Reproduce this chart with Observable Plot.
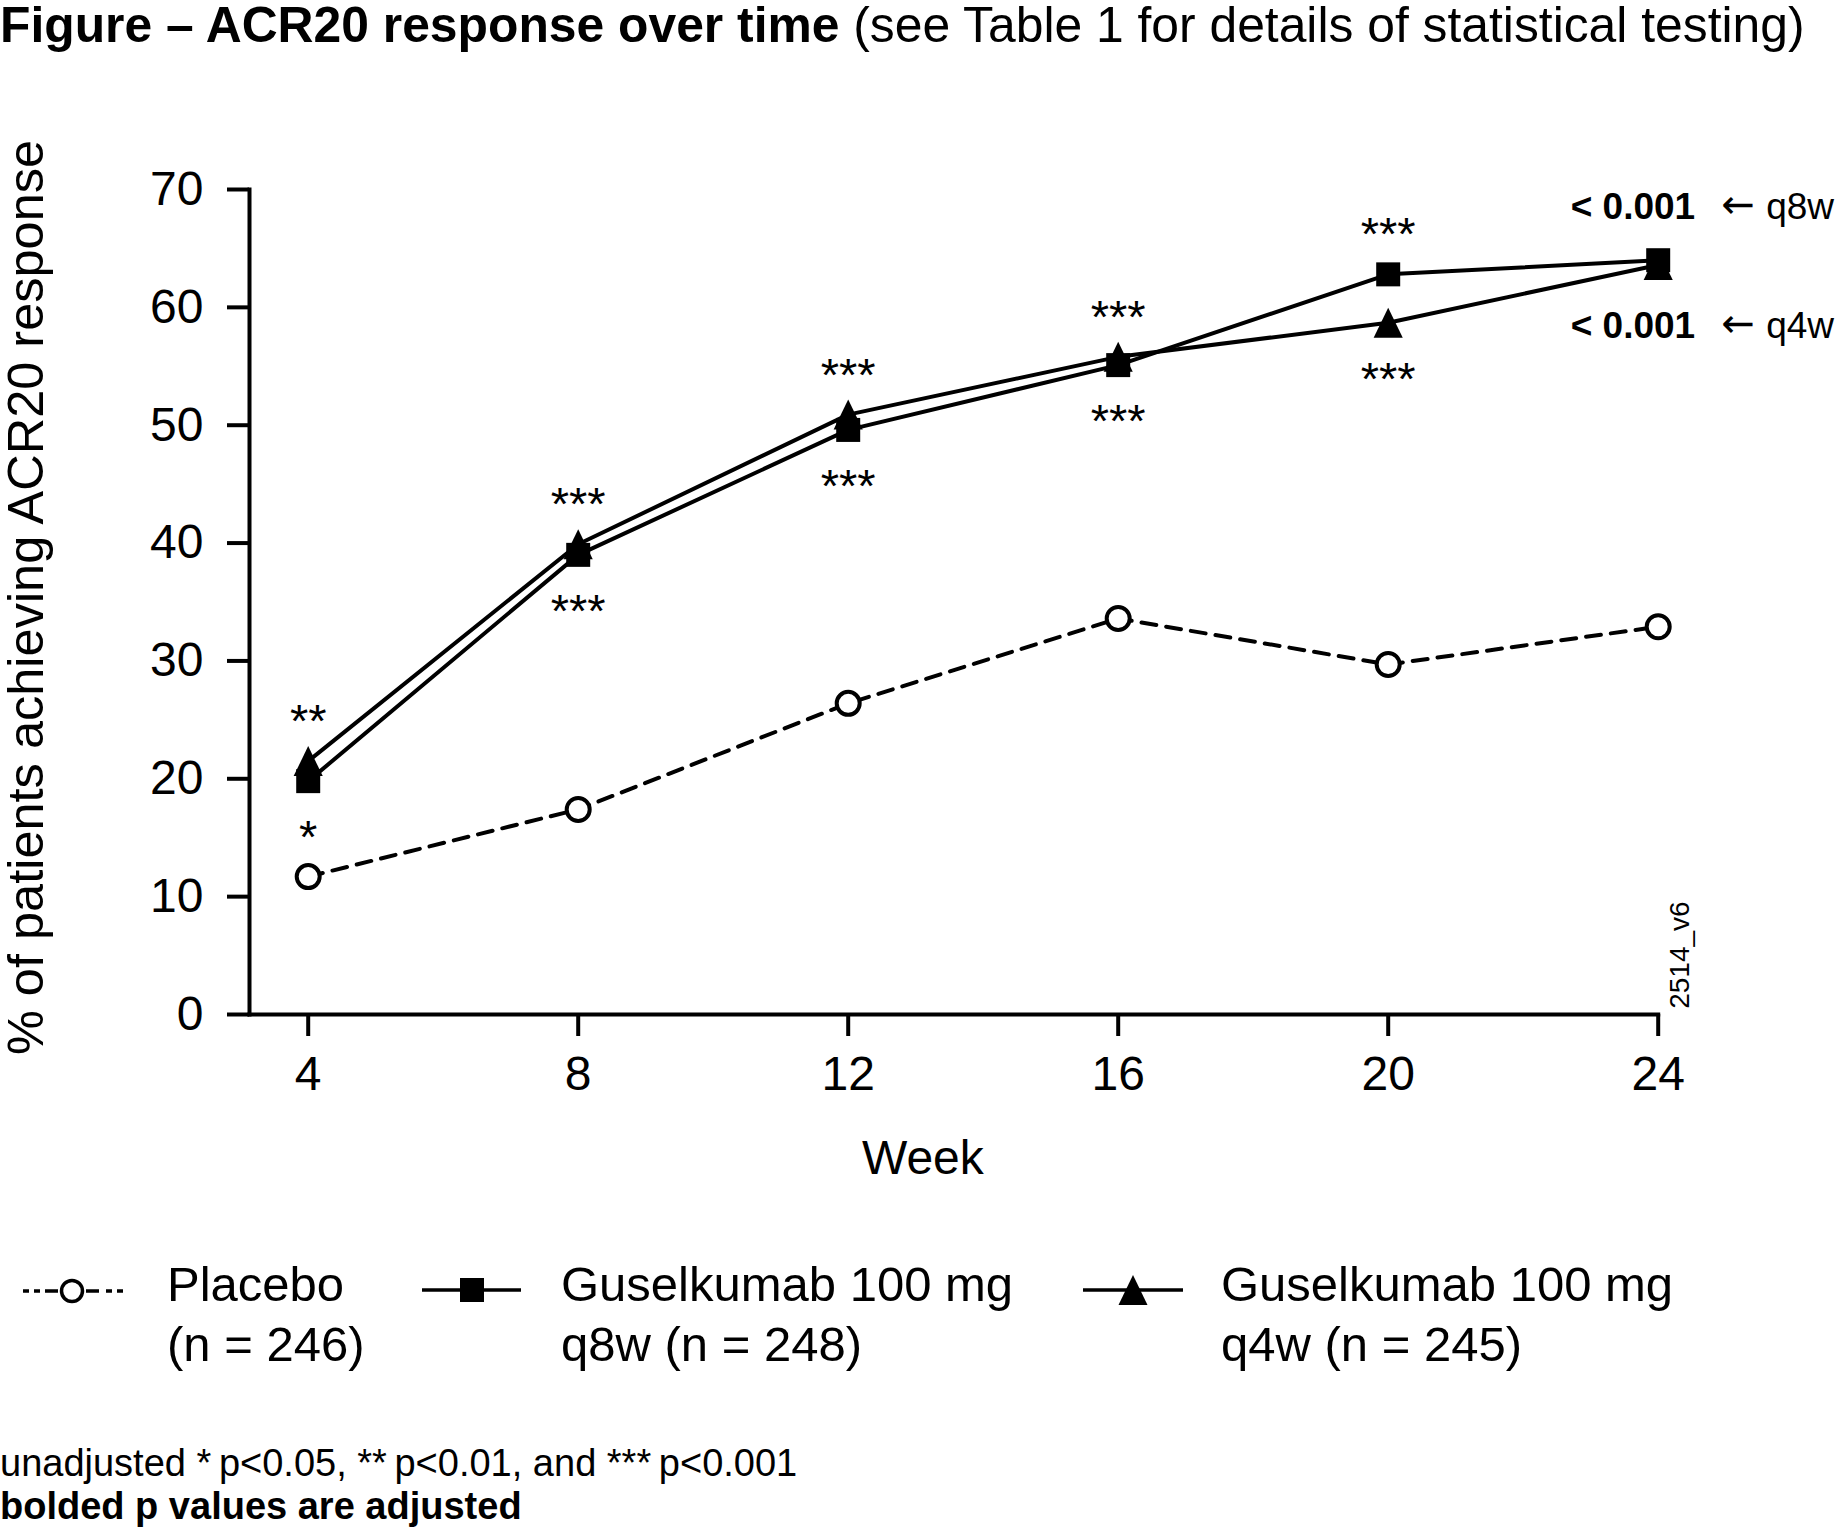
<!DOCTYPE html>
<html><head><meta charset="utf-8">
<script src="https://cdn.jsdelivr.net/npm/d3@7"></script>
<script src="https://cdn.jsdelivr.net/npm/@observablehq/plot@0.6"></script>
<style>
html,body{margin:0;padding:0;background:#fff;}
body{width:1836px;height:1540px;position:relative;overflow:hidden;font-family:"Liberation Sans",Arial,Helvetica,sans-serif;color:#000;}
#title{position:absolute;left:0;top:0;font-size:49.8px;line-height:50px;white-space:nowrap;}
#chart{position:absolute;left:0;top:60px;}
.leg{position:absolute;font-size:49px;line-height:60px;white-space:nowrap;}
#legsym{position:absolute;left:0;top:1240px;}
#foot{position:absolute;left:0;top:1442px;font-size:38px;line-height:43px;white-space:nowrap;}
</style></head><body>
<div id="title"><b>Figure – ACR20 response over time</b> (see Table 1 for details of statistical testing)</div>
<div id="chart"></div>
<svg id="legsym" width="1300" height="100">
  <g stroke="#000" fill="none">
    <path d="M23,51h6 M34,51h6 M45,51h13 M86,51h13 M106,51h6 M117,51h6" stroke-width="3.5"/>
    <circle cx="72" cy="51" r="10.5" fill="#fff" stroke-width="3.5"/>
    <path d="M422,50H521" stroke-width="3.5"/>
    <rect x="460" y="38" width="24" height="24" fill="#000" stroke="none"/>
    <path d="M1083,50H1183" stroke-width="3.5"/>
    <path d="M1133,35L1147.5,65L1118.5,65Z" fill="#000" stroke="none"/>
  </g>
</svg>
<div class="leg" id="leg1" style="left:167px;top:1254px"></div>
<div class="leg" id="leg2" style="left:561px;top:1254px"></div>
<div class="leg" id="leg3" style="left:1221px;top:1254px"></div>
<div id="foot">unadjusted *&#8201;p&lt;0.05, **&#8201;p&lt;0.01, and ***&#8201;p&lt;0.001<br><b>bolded p values are adjusted</b></div>
<script>
// ---- data ----
const weeks = [4, 8, 12, 16, 20, 24];
const placebo = [11.7, 17.4, 26.4, 33.6, 29.7, 32.9];
const q8w = [19.8, 39.0, 49.6, 55.1, 62.8, 64.0];
const q4w = [21.5, 39.9, 50.9, 55.8, 58.7, 63.6];
const legendLine1 = ["Placebo", "Guselkumab 100 mg", "Guselkumab 100 mg"];
const legendLine2 = ["(n = 246)", "q8w (n = 248)", "q4w (n = 245)"];
const yTicks = [0, 10, 20, 30, 40, 50, 60, 70];
const xTicks = [4, 8, 12, 16, 20, 24];
const yLabel = "% of patients achieving ACR20 response";
const xLabel = "Week";
const starWeeks = [4, 8, 12, 16, 20];
const starsAbove = ["**", "***", "***", "***", "***"];
const starsBelow = ["*", "***", "***", "***", "***"];
const adjLabels = ["< 0.001", "< 0.001"];
const adjArms = ["q8w", "q4w"];
const figId = "2514_v6";

// legend text
["leg1","leg2","leg3"].forEach((id,i)=>{
  const el = document.getElementById(id);
  el.appendChild(document.createTextNode(legendLine1[i]));
  el.appendChild(document.createElement("br"));
  el.appendChild(document.createTextNode(legendLine2[i]));
});

const rows = (vals, s) => weeks.map((w, i) => ({week: w, value: vals[i], series: s}));
const pl = rows(placebo, "Placebo");
const r8 = rows(q8w, "q8w");
const r4 = rows(q4w, "q4w");
const above = starWeeks.map((w, i) => { const j = weeks.indexOf(w); return {week: w, value: Math.max(q8w[j], q4w[j]), label: starsAbove[i]}; });
const below = starWeeks.map((w, i) => { const j = weeks.indexOf(w); return {week: w, value: Math.min(q8w[j], q4w[j]), label: starsBelow[i]}; });
const last = weeks.length - 1;
const adjTop = [{week: weeks[last], value: q8w[last], label: adjLabels[0], arm: adjArms[0]}];
const adjBot = [{week: weeks[last], value: q4w[last], label: adjLabels[1], arm: adjArms[1]}];

const squareSym = {draw(ctx, size) { const r = Math.sqrt(size / Math.PI); ctx.rect(-r, -r, 2 * r, 2 * r); }};
const triSym = {draw(ctx, size) { const r = Math.sqrt(size / Math.PI); ctx.moveTo(0, -r); ctx.lineTo(r * 0.97, r); ctx.lineTo(-r * 0.97, r); ctx.closePath(); }};

const font = '"Liberation Sans", Arial, Helvetica, sans-serif';
const chart = Plot.plot({
  width: 1836, height: 1140,
  marginLeft: 249, marginRight: 178.3, marginTop: 129, marginBottom: 186,
  style: {fontFamily: font, color: "#000", background: "#fff", overflow: "visible"},
  x: {domain: [4, 24], insetLeft: 58.7},
  y: {domain: [0, 70]},
  marks: [
    Plot.axisY({ticks: yTicks, tickSize: 22, tickPadding: 24, fontSize: 48, strokeWidth: 4, label: null, tickFormat: d => String(d)}),
    Plot.axisX({ticks: xTicks, tickSize: 22, tickPadding: 19, fontSize: 48, strokeWidth: 4, label: null, tickFormat: d => String(d)}),
    Plot.frame({anchor: "left", strokeWidth: 4}),
    Plot.frame({anchor: "bottom", strokeWidth: 4}),
    Plot.text([yLabel], {frameAnchor: "left", rotate: -90, textAnchor: "middle", lineAnchor: "top", dx: -242, dy: -4.5, fontSize: 50.5}),
    Plot.text([xLabel], {frameAnchor: "bottom", textAnchor: "middle", lineAnchor: "top", dx: -31, dy: 125.5, fontSize: 48}),
    Plot.text([figId], {frameAnchor: "bottom-right", rotate: -90, lineAnchor: "top", textAnchor: "start", dx: 11.3, dy: -5.7, fontSize: 28}),
    Plot.line(pl, {x: "week", y: "value", stroke: "#000", strokeWidth: 4, strokeDasharray: "15,10"}),
    Plot.line(r8, {x: "week", y: "value", stroke: "#000", strokeWidth: 4}),
    Plot.line(r4, {x: "week", y: "value", stroke: "#000", strokeWidth: 4}),
    Plot.dot(pl, {x: "week", y: "value", r: 11.5, fill: "#fff", stroke: "#000", strokeWidth: 4}),
    Plot.dot(r4, {x: "week", y: "value", r: 15, symbol: triSym, fill: "#000", stroke: "none"}),
    Plot.dot(r8, {x: "week", y: "value", r: 12, symbol: squareSym, fill: "#000", stroke: "none"}),
    Plot.text(above, {x: "week", y: "value", text: "label", lineAnchor: "middle", dy: -39, fontSize: 47}),
    Plot.text(below, {x: "week", y: "value", text: "label", lineAnchor: "middle", dy: 57, fontSize: 47}),
    Plot.text(adjTop, {x: "week", y: "value", text: "label", textAnchor: "end", lineAnchor: "middle", dx: 37, dy: -53, fontSize: 37, fontWeight: "bold"}),
    Plot.text(adjBot, {x: "week", y: "value", text: "label", textAnchor: "end", lineAnchor: "middle", dx: 37, dy: 61, fontSize: 37, fontWeight: "bold"}),
    Plot.text(adjTop, {x: "week", y: "value", text: () => "\u2190", textAnchor: "start", lineAnchor: "middle", dx: 63, dy: -55, fontSize: 40, fontFamily: "DejaVu Sans"}),
    Plot.text(adjBot, {x: "week", y: "value", text: () => "\u2190", textAnchor: "start", lineAnchor: "middle", dx: 63, dy: 59, fontSize: 40, fontFamily: "DejaVu Sans"}),
    Plot.text(adjTop, {x: "week", y: "value", text: "arm", textAnchor: "start", lineAnchor: "middle", dx: 108, dy: -53, fontSize: 37}),
    Plot.text(adjBot, {x: "week", y: "value", text: "arm", textAnchor: "start", lineAnchor: "middle", dx: 108, dy: 61, fontSize: 37})
  ]
});
document.getElementById("chart").appendChild(chart);
</script>
</body></html>
